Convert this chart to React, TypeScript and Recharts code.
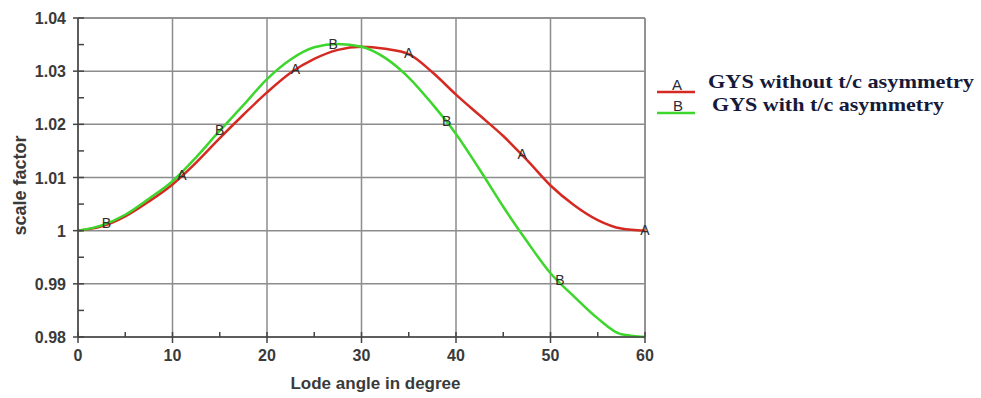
import {
  ComposedChart,
  Line,
  Scatter,
  XAxis,
  YAxis,
  CartesianGrid,
  ReferenceLine,
  Legend,
} from 'recharts';

// Lode angle (degrees) and the scale factor of both yield surfaces
const lodeAngles = [0, 2.5, 5, 7.5, 10, 12.5, 15, 17.5, 20, 22.5, 25, 27.5, 30, 32.5, 35, 37.5, 40, 42.5, 45, 47.5, 50, 52.5, 55, 57.5, 60];
const scaleNoAsym = [1.0, 1.0008, 1.0027, 1.0055, 1.0087, 1.0128, 1.0174, 1.0218, 1.026, 1.0297, 1.0323, 1.034, 1.0346, 1.0342, 1.0332, 1.0298, 1.0256, 1.0217, 1.0178, 1.0133, 1.0085, 1.0048, 1.002, 1.0004, 1.0];
const scaleAsym = [1.0, 1.001, 1.003, 1.006, 1.0093, 1.0138, 1.0188, 1.0236, 1.0285, 1.0322, 1.0345, 1.0351, 1.0346, 1.0325, 1.0288, 1.0238, 1.0182, 1.0115, 1.0045, 0.998, 0.992, 0.9876, 0.9835, 0.9805, 0.98];

// letter markers along each curve
const markerAngleA = [11, 23, 35, 47, 60];
const markerValueA = [1.0103, 1.0303, 1.0332, 1.0143, 1.0];
const markerAngleB = [3, 15, 27, 39, 51];
const markerValueB = [1.0013, 1.0188, 1.035, 1.0205, 0.9905];

const xMajor = [0, 10, 20, 30, 40, 50, 60];
const xTicks = [0, 5, 10, 15, 20, 25, 30, 35, 40, 45, 50, 55, 60];
const yMajor = [0.98, 0.99, 1, 1.01, 1.02, 1.03, 1.04];
const yTicks = [0.98, 0.985, 0.99, 0.995, 1, 1.005, 1.01, 1.015, 1.02, 1.025, 1.03, 1.035, 1.04];

const seriesA = 'GYS without t/c asymmetry';
const seriesB = 'GYS with t/c asymmetry';

const RED = '#d52a22';
const GREEN = '#3cd62c';
const AXIS = '#444';
const GRID = '#8c8c8c';
const TEXT = '#3a3a3a';
const SANS = "Arial, 'Liberation Sans'";
const SERIF = "'Times New Roman', 'Liberation Serif'";

const data = lodeAngles.map((angle, i) => ({ angle, a: scaleNoAsym[i], b: scaleAsym[i] }));
const pointsA = markerAngleA.map((angle, i) => ({ angle, v: markerValueA[i] }));
const pointsB = markerAngleB.map((angle, i) => ({ angle, v: markerValueB[i] }));

const isMajorY = (v: number) => Math.abs(v * 100 - Math.round(v * 100)) < 1e-6;

const XTick = ({ x, y, payload }: any) => {
  const major = xMajor.includes(payload.value);
  return (
    <g>
      <line x1={x} x2={x} y1={y - 5} y2={major ? y + 6 : y} stroke={AXIS} strokeWidth={1.5} />
      {major && (
        <text x={x} y={y + 24} textAnchor="middle" fontFamily={SANS} fontWeight="bold" fontSize={16} fill={TEXT}>
          {payload.value}
        </text>
      )}
    </g>
  );
};

const YTick = ({ x, y, payload }: any) => {
  const major = isMajorY(payload.value);
  return (
    <g>
      <line x1={major ? x - 5 : x} x2={x + 6} y1={y} y2={y} stroke={AXIS} strokeWidth={1.5} />
      {major && (
        <text x={x - 12} y={y + 6} textAnchor="end" fontFamily={SANS} fontWeight="bold" fontSize={16} fill={TEXT}>
          {String(payload.value)}
        </text>
      )}
    </g>
  );
};

const letterShape = (letter: string) => (props: any) => (
  <text x={props.cx} y={props.cy + 4} textAnchor="middle" fontFamily={SANS} fontSize={14} fill="#2e2e2e">
    {letter}
  </text>
);

const LegendBox = () => (
  <svg width={330} height={52}>
    <line x1={7} x2={45} y1={22} y2={22} stroke={RED} strokeWidth={2.5} />
    <text x={27} y={20} textAnchor="middle" fontFamily={SANS} fontSize={15} fill="#2a2a3a">A</text>
    <text x={58} y={18} fontFamily={SERIF} fontWeight="bold" fontSize={19} textLength={266} lengthAdjust="spacingAndGlyphs" fill="#161a3a">
      {seriesA}
    </text>
    <line x1={7} x2={45} y1={43} y2={43} stroke={GREEN} strokeWidth={2.5} />
    <text x={28} y={41} textAnchor="middle" fontFamily={SANS} fontSize={15} fill="#2a2a3a">B</text>
    <text x={62} y={41} fontFamily={SERIF} fontWeight="bold" fontSize={19} textLength={232} lengthAdjust="spacingAndGlyphs" fill="#161a3a">
      {seriesB}
    </text>
  </svg>
);

export default function App() {
  return (
    <div style={{ position: 'absolute', left: 0, top: 0, background: '#fff' }}>
      <ComposedChart width={981} height={398} data={data} margin={{ top: 18, right: 336, bottom: 0, left: 0 }}>
        <CartesianGrid stroke={GRID} strokeWidth={1.5} horizontalValues={yMajor} verticalValues={xMajor} />
        <ReferenceLine x={60} stroke={GRID} strokeWidth={1.5} />
        <ReferenceLine y={1.04} stroke={GRID} strokeWidth={1.5} />

        <XAxis
          dataKey="angle"
          type="number"
          domain={[0, 60]}
          ticks={xTicks}
          interval={0}
          height={61}
          tickSize={0}
          tickMargin={0}
          tickLine={false}
          axisLine={{ stroke: AXIS, strokeWidth: 1.5 }}
          tick={<XTick />}
          label={{
            content: (p: any) => (
              <text
                x={p.viewBox.x + p.viewBox.width / 2 + 14}
                y={p.viewBox.y + 52}
                textAnchor="middle"
                fontFamily={SANS}
                fontWeight="bold"
                fontSize={17}
                fill={TEXT}
              >
                Lode angle in degree
              </text>
            ),
          }}
        />
        <YAxis
          type="number"
          domain={[0.98, 1.04]}
          ticks={yTicks}
          interval={0}
          width={78}
          tickSize={0}
          tickMargin={0}
          tickLine={false}
          axisLine={{ stroke: AXIS, strokeWidth: 1.5 }}
          tick={<YTick />}
          label={{
            content: (p: any) => {
              const cx = 26;
              const cy = p.viewBox.y + p.viewBox.height / 2 + 8;
              return (
                <text
                  x={cx}
                  y={cy}
                  transform={`rotate(-90 ${cx} ${cy})`}
                  textAnchor="middle"
                  fontFamily={SANS}
                  fontWeight="bold"
                  fontSize={18}
                  fill={TEXT}
                >
                  scale factor
                </text>
              );
            },
          }}
        />

        <Line type="monotone" dataKey="a" name={seriesA} stroke={RED} strokeWidth={2.5} dot={false} isAnimationActive={false} />
        <Line type="monotone" dataKey="b" name={seriesB} stroke={GREEN} strokeWidth={2.5} dot={false} isAnimationActive={false} />
        <Scatter data={pointsA} dataKey="v" shape={letterShape('A')} isAnimationActive={false} legendType="none" />
        <Scatter data={pointsB} dataKey="v" shape={letterShape('B')} isAnimationActive={false} legendType="none" />

        <Legend
          layout="horizontal"
          align="center"
          verticalAlign="middle"
          content={() => <LegendBox />}
          wrapperStyle={{ left: 650, top: 70, width: 330, height: 52 }}
        />
      </ComposedChart>
    </div>
  );
}
